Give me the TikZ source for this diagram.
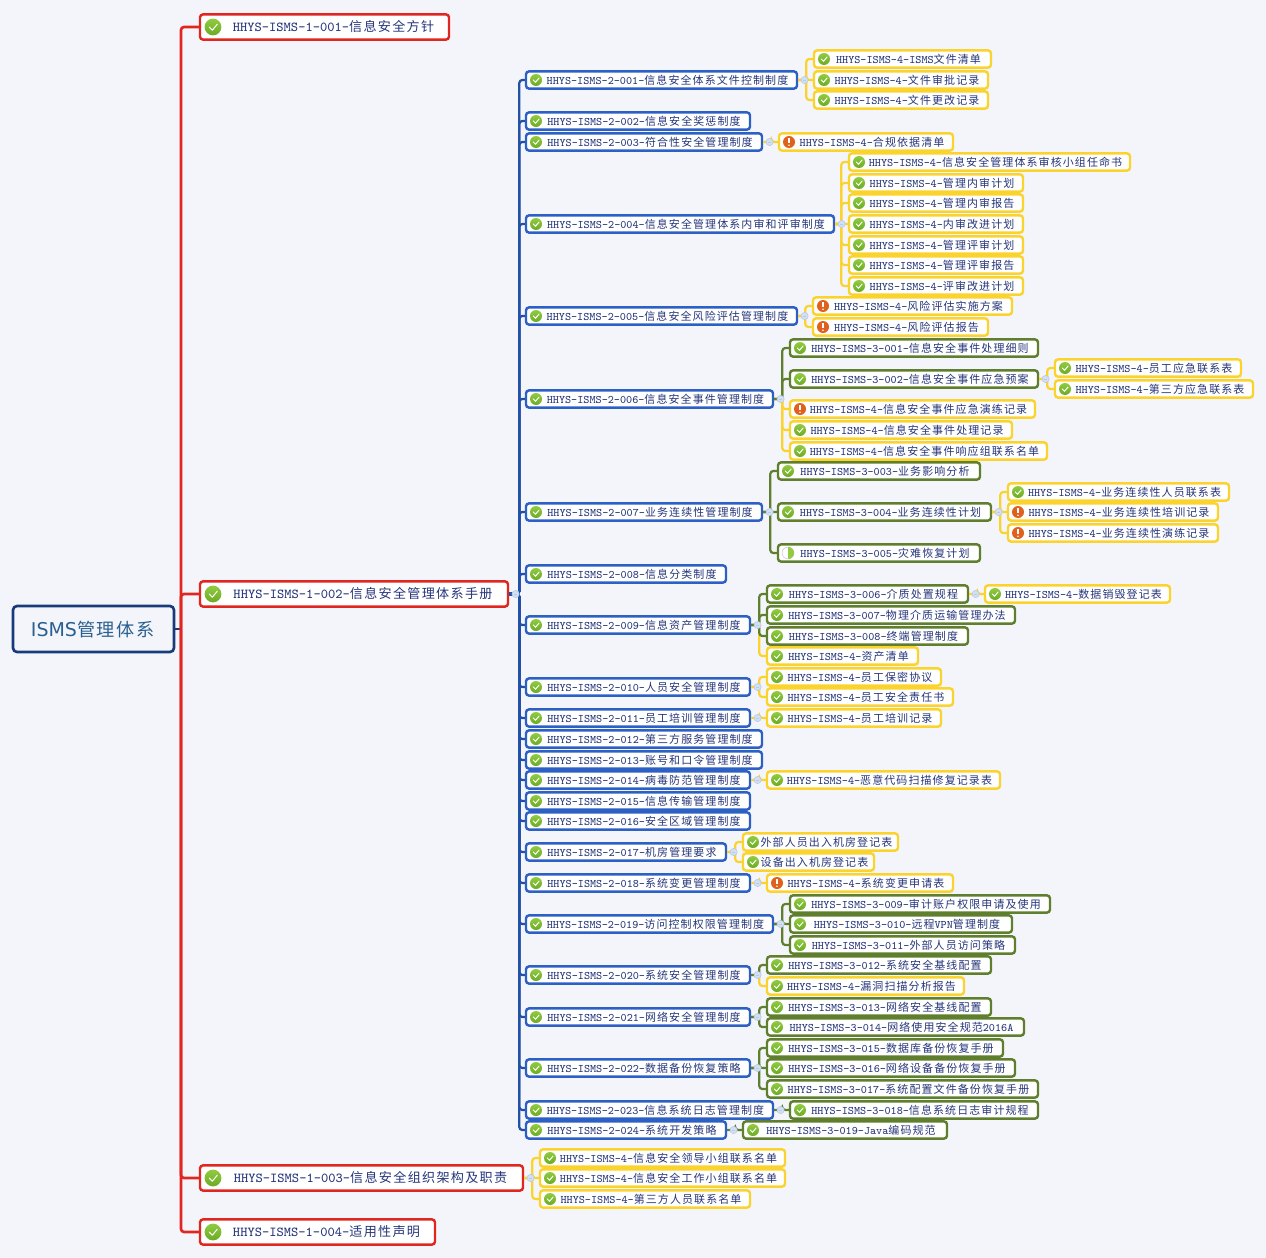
\documentclass[tikz,border=0pt]{standalone}
\usepackage{fontspec}
\newfontfamily\cjS[Scale=0.955,LetterSpace=10]{Noto Sans CJK SC}
\newfontfamily\rootlat{DejaVu Sans}
\newcommand\C[1]{{\cjS #1}}
\newcommand\Pf[2]{HHYS-ISMS-#1-\C{#2}}
\definecolor{bgc}{HTML}{F3F5FA}
\definecolor{redc}{HTML}{E0261F}
\definecolor{bluec}{HTML}{2D60C4}
\definecolor{trunkc}{HTML}{2150A6}
\definecolor{olivec}{HTML}{5F7E2E}
\definecolor{yelc}{HTML}{FBD32F}
\definecolor{navyc}{HTML}{163A7C}
\definecolor{txtc}{HTML}{26367A}
\definecolor{rootc}{HTML}{2A5F8F}
\definecolor{grna}{HTML}{90CB40}
\definecolor{grnb}{HTML}{6CAB25}
\definecolor{org}{HTML}{E0601E}
\definecolor{knobf}{HTML}{D3DFF2}
\definecolor{knobd}{HTML}{B7CAE6}
\tikzset{
  basebx/.style={draw,fill=white,rounded corners=1.5pt,line width=1.2pt,inner sep=0pt,minimum height=8.6pt},
  bluebx/.style={basebx,draw=bluec},
  olivebx/.style={basebx,draw=olivec},
  yellowbx/.style={basebx,draw=yelc},
  redbx/.style={basebx,draw=redc,minimum height=12.6pt},
  smalltxt/.style={inner sep=0pt,text=txtc,font=\fontsize{5.75}{6}\selectfont\ttfamily,text height=4.2pt,text depth=1pt},
  largetxt/.style={inner sep=0pt,text=txtc,font=\fontsize{6.85}{8}\selectfont\ttfamily,text height=5pt,text depth=1.2pt},
  conn/.style={rounded corners=1.5pt,line width=1.1pt},
}
\newcommand\icG[3]{%
  \shade[top color=grna,bottom color=grnb] (#1,#2) circle[radius=#3];
  \begin{scope}[shift={(#1,#2)},x=#3,y=#3]
  \draw[white,line width=0.5pt,line cap=round,line join=round] (-0.45,0) -- (-0.08,-0.38) -- (0.5,0.32);
  \end{scope}}
\newcommand\icO[3]{%
  \fill[org] (#1,#2) circle[radius=#3];
  \begin{scope}[shift={(#1,#2)},x=#3,y=#3]
  \draw[white,line width=0.75pt] (0,0.62) -- (0,-0.15);
  \fill[white] (0,-0.55) circle[radius=0.42pt];
  \end{scope}}
\newcommand\icH[3]{%
  \fill[white] (#1,#2) circle[radius=#3];
  \draw[black!25,line width=0.2pt] (#1,#2) circle[radius=#3];
  \begin{scope}[shift={(#1,#2)}]
  \fill[grna] (0pt,#3) arc[start angle=90,end angle=-90,radius=#3] -- cycle;
  \end{scope}}
\newcommand\nd[7]{%
  \pgfmathsetmacro\ndx{(#2+#3)/2}%
  \pgfmathsetmacro\ndw{(#3-#2)*0.5}%
  \pgfmathsetmacro\ndi{#2+10}%
  \pgfmathsetmacro\ndt{\ndx+6}%
  \pgfmathsetmacro\ndy{#4+1}%
  \node[#5,minimum width=\ndw pt] (#1) at (\ndx,#4) {};
  \node[smalltxt] (#1t) at (\ndt,\ndy) {#7};
  \csname ic#6\endcsname{\ndi}{#4}{3pt}}
\newcommand\ndL[5]{%
  \pgfmathsetmacro\ndx{(#2+#3)/2}%
  \pgfmathsetmacro\ndw{(#3-#2)*0.5}%
  \pgfmathsetmacro\ndi{#2+13}%
  \pgfmathsetmacro\ndt{\ndx+9}%
  \pgfmathsetmacro\ndy{#4+1}%
  \node[redbx,minimum width=\ndw pt] (#1) at (\ndx,#4) {};
  \node[largetxt] (#1t) at (\ndt,\ndy) {#5};
  \icG{\ndi}{#4}{4.2pt}}
\newcommand\cn[3]{\draw[conn,#3] (#1.east) -| ([xshift=-3.25pt]#2.west) -- (#2.west);}
\newcommand\kn[1]{%
  \draw[fill=knobf,draw=knobd,line width=0.3pt] ([xshift=3.2pt]#1.east) circle[radius=1.8pt];
  \draw[knobd,line width=0.35pt] ([xshift=2.3pt]#1.east) -- ([xshift=4.1pt]#1.east);}
\begin{document}
\begin{tikzpicture}[x=0.5pt,y=-0.5pt]
\fill[bgc] (0,0) rectangle (1266,1258);
\useasboundingbox (0,0) rectangle (1266,1258);
% root
\node[draw=navyc,fill=bgc,rounded corners=2pt,line width=1.3pt,inner sep=0pt,minimum width=80.5pt,minimum height=23pt] (root) at (93.5,629) {};
\node[inner sep=0pt,text=rootc,font=\fontsize{9.5}{11}\selectfont] (roott) at (93,630) {{\rootlat ISMS}\C{管理体系}};
% level 1
\ndL{la}{200}{449}{27}{\Pf{1-001}{信息安全方针}}
\ndL{lb}{200}{508}{594}{\Pf{1-002}{信息安全管理体系手册}}
\ndL{lc}{200}{523}{1178}{\Pf{1-003}{信息安全组织架构及职责}}
\ndL{ld}{200}{435}{1232}{\Pf{1-004}{适用性声明}}
% level 2
\nd{b1}{526}{797}{80}{bluebx}{G}{\Pf{2-001}{信息安全体系文件控制制度}}
\nd{b2}{526}{750}{121}{bluebx}{G}{\Pf{2-002}{信息安全奖惩制度}}
\nd{b3}{526}{762}{142}{bluebx}{G}{\Pf{2-003}{符合性安全管理制度}}
\nd{b4}{526}{834}{224}{bluebx}{G}{\Pf{2-004}{信息安全管理体系内审和评审制度}}
\nd{b5}{526}{797}{316}{bluebx}{G}{\Pf{2-005}{信息安全风险评估管理制度}}
\nd{b6}{526}{773}{399}{bluebx}{G}{\Pf{2-006}{信息安全事件管理制度}}
\nd{b7}{526}{762}{512}{bluebx}{G}{\Pf{2-007}{业务连续性管理制度}}
\nd{b8}{526}{726}{574}{bluebx}{G}{\Pf{2-008}{信息分类制度}}
\nd{b9}{526}{750}{625}{bluebx}{G}{\Pf{2-009}{信息资产管理制度}}
\nd{b10}{526}{750}{687}{bluebx}{G}{\Pf{2-010}{人员安全管理制度}}
\nd{b11}{526}{750}{718}{bluebx}{G}{\Pf{2-011}{员工培训管理制度}}
\nd{b12}{526}{762}{739}{bluebx}{G}{\Pf{2-012}{第三方服务管理制度}}
\nd{b13}{526}{762}{760}{bluebx}{G}{\Pf{2-013}{账号和口令管理制度}}
\nd{b14}{526}{750}{780}{bluebx}{G}{\Pf{2-014}{病毒防范管理制度}}
\nd{b15}{526}{750}{801}{bluebx}{G}{\Pf{2-015}{信息传输管理制度}}
\nd{b16}{526}{750}{821}{bluebx}{G}{\Pf{2-016}{安全区域管理制度}}
\nd{b17}{526}{726}{852}{bluebx}{G}{\Pf{2-017}{机房管理要求}}
\nd{b18}{526}{750}{883}{bluebx}{G}{\Pf{2-018}{系统变更管理制度}}
\nd{b19}{526}{773}{924}{bluebx}{G}{\Pf{2-019}{访问控制权限管理制度}}
\nd{b20}{526}{750}{975}{bluebx}{G}{\Pf{2-020}{系统安全管理制度}}
\nd{b21}{526}{750}{1017}{bluebx}{G}{\Pf{2-021}{网络安全管理制度}}
\nd{b22}{526}{750}{1068}{bluebx}{G}{\Pf{2-022}{数据备份恢复策略}}
\nd{b23}{526}{773}{1110}{bluebx}{G}{\Pf{2-023}{信息系统日志管理制度}}
\nd{b24}{526}{726}{1130}{bluebx}{G}{\Pf{2-024}{系统开发策略}}
% children
\nd{c1a}{814}{991}{59}{yellowbx}{G}{\Pf{4}{}ISMS\C{文件清单}}
\nd{c1b}{814}{988}{80}{yellowbx}{G}{\Pf{4}{文件审批记录}}
\nd{c1c}{814}{988}{100}{yellowbx}{G}{\Pf{4}{文件更改记录}}
\nd{c3a}{779}{953}{142}{yellowbx}{O}{\Pf{4}{合规依据清单}}
\nd{c4a}{849}{1130}{162}{yellowbx}{G}{\Pf{4}{信息安全管理体系审核小组任命书}}
\nd{c4b}{849}{1023}{183}{yellowbx}{G}{\Pf{4}{管理内审计划}}
\nd{c4c}{849}{1023}{203}{yellowbx}{G}{\Pf{4}{管理内审报告}}
\nd{c4d}{849}{1023}{224}{yellowbx}{G}{\Pf{4}{内审改进计划}}
\nd{c4e}{849}{1023}{245}{yellowbx}{G}{\Pf{4}{管理评审计划}}
\nd{c4f}{849}{1023}{265}{yellowbx}{G}{\Pf{4}{管理评审报告}}
\nd{c4g}{849}{1023}{286}{yellowbx}{G}{\Pf{4}{评审改进计划}}
\nd{c5a}{813}{1012}{306}{yellowbx}{O}{\Pf{4}{风险评估实施方案}}
\nd{c5b}{813}{988}{327}{yellowbx}{O}{\Pf{4}{风险评估报告}}
\nd{c6a}{790}{1038}{348}{olivebx}{G}{\Pf{3-001}{信息安全事件处理细则}}
\nd{c6b}{790}{1038}{379}{olivebx}{G}{\Pf{3-002}{信息安全事件应急预案}}
\nd{d6a}{1055}{1241}{368}{yellowbx}{G}{\Pf{4}{员工应急联系表}}
\nd{d6b}{1055}{1253}{389}{yellowbx}{G}{\Pf{4}{第三方应急联系表}}
\nd{c6c}{790}{1035}{409}{yellowbx}{O}{\Pf{4}{信息安全事件应急演练记录}}
\nd{c6d}{790}{1012}{430}{yellowbx}{G}{\Pf{4}{信息安全事件处理记录}}
\nd{c6e}{790}{1047}{451}{yellowbx}{G}{\Pf{4}{信息安全事件响应组联系名单}}
\nd{c7a}{778}{980}{471}{olivebx}{G}{\Pf{3-003}{业务影响分析}}
\nd{c7b}{778}{991}{512}{olivebx}{G}{\Pf{3-004}{业务连续性计划}}
\nd{c7c}{778}{980}{553}{olivebx}{H}{\Pf{3-005}{灾难恢复计划}}
\nd{d7a}{1008}{1229}{492}{yellowbx}{G}{\Pf{4}{业务连续性人员联系表}}
\nd{d7b}{1008}{1218}{512}{yellowbx}{O}{\Pf{4}{业务连续性培训记录}}
\nd{d7c}{1008}{1218}{533}{yellowbx}{O}{\Pf{4}{业务连续性演练记录}}
\nd{c9a}{767}{968}{594}{olivebx}{G}{\Pf{3-006}{介质处置规程}}
\nd{d9a}{985}{1170}{594}{yellowbx}{G}{\Pf{4}{数据销毁登记表}}
\nd{c9b}{767}{1015}{615}{olivebx}{G}{\Pf{3-007}{物理介质运输管理办法}}
\nd{c9c}{767}{968}{636}{olivebx}{G}{\Pf{3-008}{终端管理制度}}
\nd{c9d}{767}{918}{656}{yellowbx}{G}{\Pf{4}{资产清单}}
\nd{c10a}{767}{941}{677}{yellowbx}{G}{\Pf{4}{员工保密协议}}
\nd{c10b}{767}{953}{697}{yellowbx}{G}{\Pf{4}{员工安全责任书}}
\nd{c11a}{767}{941}{718}{yellowbx}{G}{\Pf{4}{员工培训记录}}
\nd{c14a}{767}{1000}{780}{yellowbx}{G}{\Pf{4}{恶意代码扫描修复记录表}}
\nd{c17a}{743}{898}{842}{yellowbx}{G}{\C{外部人员出入机房登记表}}
\nd{c17b}{743}{874}{862}{yellowbx}{G}{\C{设备出入机房登记表}}
\nd{c18a}{767}{953}{883}{yellowbx}{O}{\Pf{4}{系统变更申请表}}
\nd{c19a}{790}{1050}{904}{olivebx}{G}{\Pf{3-009}{审计账户权限申请及使用}}
\nd{c19b}{790}{1012}{924}{olivebx}{G}{\Pf{3-010}{远程}VPN\C{管理制度}}
\nd{c19c}{790}{1015}{945}{olivebx}{G}{\Pf{3-011}{外部人员访问策略}}
\nd{c20a}{767}{991}{965}{olivebx}{G}{\Pf{3-012}{系统安全基线配置}}
\nd{c20b}{767}{964}{986}{yellowbx}{G}{\Pf{4}{漏洞扫描分析报告}}
\nd{c21a}{767}{991}{1007}{olivebx}{G}{\Pf{3-013}{网络安全基线配置}}
\nd{c21b}{767}{1024}{1027}{olivebx}{G}{\Pf{3-014}{网络使用安全规范}2016A}
\nd{c22a}{767}{1003}{1048}{olivebx}{G}{\Pf{3-015}{数据库备份恢复手册}}
\nd{c22b}{767}{1015}{1068}{olivebx}{G}{\Pf{3-016}{网络设备备份恢复手册}}
\nd{c22c}{767}{1038}{1089}{olivebx}{G}{\Pf{3-017}{系统配置文件备份恢复手册}}
\nd{c23a}{790}{1038}{1110}{olivebx}{G}{\Pf{3-018}{信息系统日志审计规程}}
\nd{c24a}{743}{947}{1130}{olivebx}{G}{\Pf{3-019}{}Java\C{编码规范}}
\nd{e1}{540}{785}{1158}{yellowbx}{G}{\Pf{4}{信息安全领导小组联系名单}}
\nd{e2}{540}{785}{1178}{yellowbx}{G}{\Pf{4}{信息安全工作小组联系名单}}
\nd{e3}{540}{750}{1199}{yellowbx}{G}{\Pf{4}{第三方人员联系名单}}
% root connectors
\coordinate (rt) at (181,629);
\draw[navyc,line width=1.2pt] (root.east) -- (rt);
\foreach \t in {la,lb,lc,ld}{\draw[redc,line width=1.3pt,rounded corners=1.5pt] (rt) |- (\t.west);}
% trunk to level 2
\foreach \t in {1,2,...,24}{\draw[conn,trunkc] (lb.east) -| ([xshift=-2.75pt]b\t.west) -- (b\t.west);}
% yellow connectors
\foreach \p/\c in {b1/c1a,b1/c1b,b1/c1c,b3/c3a,b4/c4a,b4/c4b,b4/c4c,b4/c4d,b4/c4e,b4/c4f,b4/c4g,b5/c5a,b5/c5b,b6/c6c,b6/c6d,b6/c6e,c6b/d6a,c6b/d6b,c7b/d7a,c7b/d7b,c7b/d7c,c9a/d9a,b9/c9d,b10/c10a,b10/c10b,b11/c11a,b14/c14a,b17/c17a,b17/c17b,b18/c18a,b20/c20b,lc/e1,lc/e2,lc/e3}{\cn{\p}{\c}{yelc}}
% olive connectors
\foreach \p/\c in {b6/c6a,b6/c6b,b7/c7a,b7/c7b,b7/c7c,b9/c9a,b9/c9b,b9/c9c,b19/c19a,b19/c19b,b19/c19c,b20/c20a,b21/c21a,b21/c21b,b22/c22a,b22/c22b,b22/c22c,b23/c23a,b24/c24a}{\cn{\p}{\c}{olivec}}
% collapse knobs
\foreach \p in {lb,lc,b1,b3,b4,b5,b6,c6b,b7,c7b,b9,c9a,b10,b11,b14,b17,b18,b19,b20,b21,b22,b23,b24}{\kn{\p}}
\end{tikzpicture}
\end{document}
